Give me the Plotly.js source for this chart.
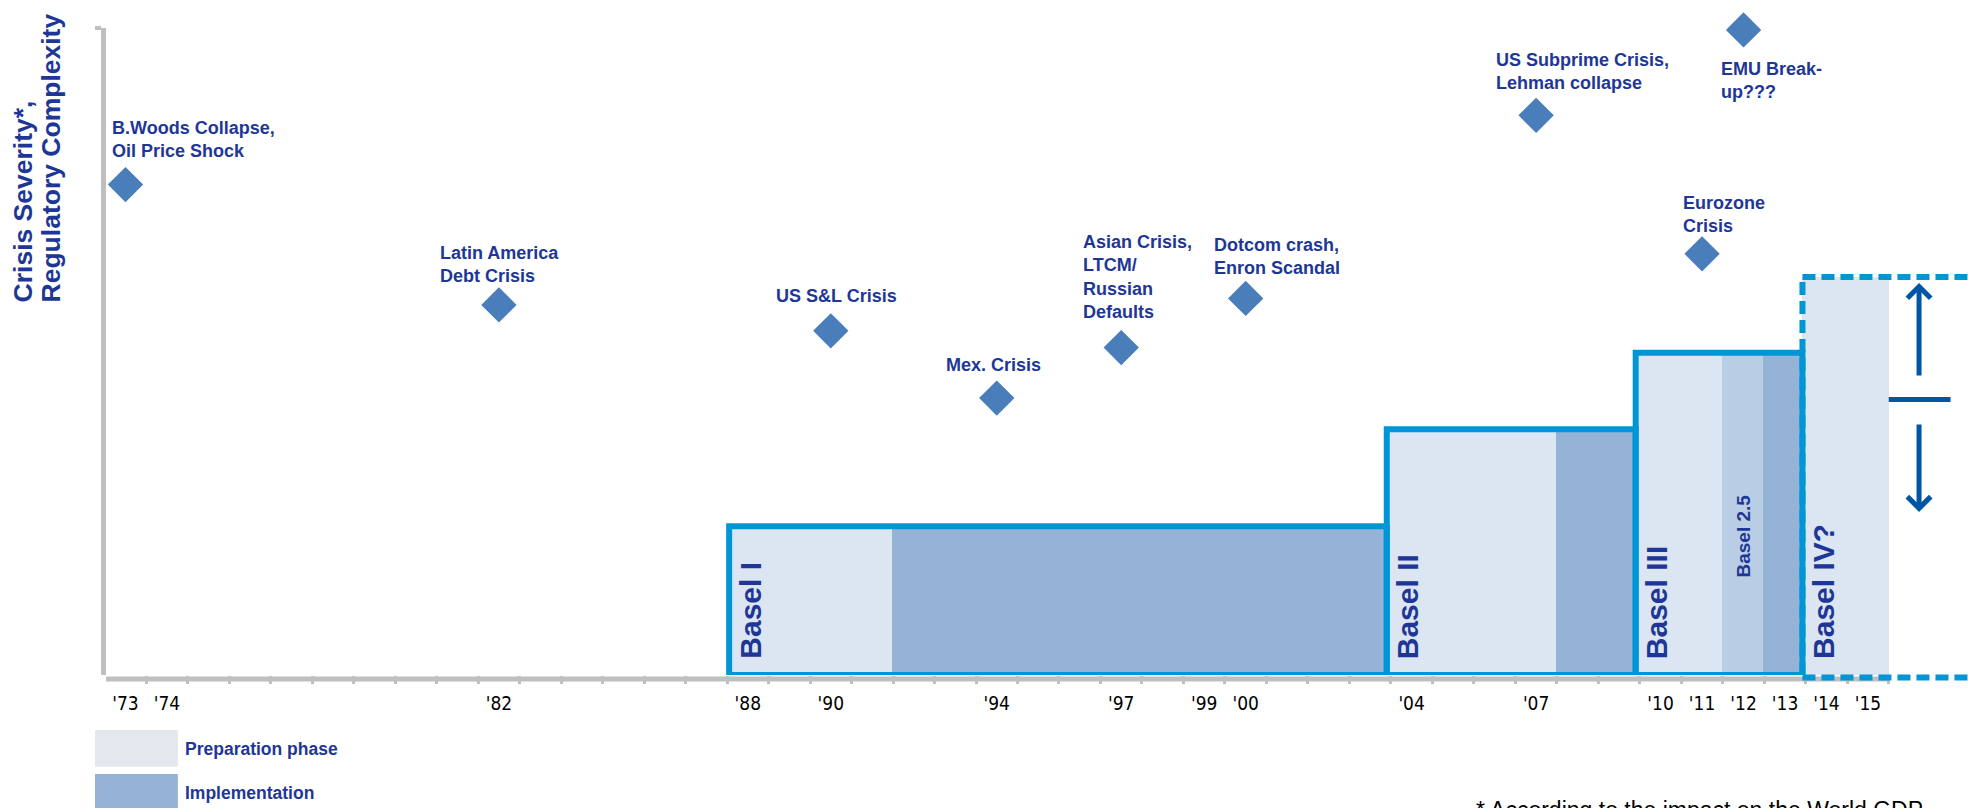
<!DOCTYPE html>
<html><head><meta charset="utf-8">
<script src="https://cdn.plot.ly/plotly-3.0.1.min.js"></script>
<style>html,body{margin:0;padding:0;background:#fff;} #chart{width:1968px;height:808px;}</style>
</head><body><div id="chart"></div>
<script>
// ---- Crises (diamonds) ----
const crisisLabels = ["B.Woods Collapse,<br>Oil Price Shock", "Latin America<br>Debt Crisis", "US S&amp;L Crisis", "Mex. Crisis",
  "Asian Crisis,<br>LTCM/<br>Russian<br>Defaults", "Dotcom crash,<br>Enron Scandal", "US Subprime Crisis,<br>Lehman collapse",
  "EMU Break-<br>up???", "Eurozone<br>Crisis"];
const crisisYears = [1973, 1982, 1990, 1994, 1997, 2000, 2007, 2012, 2011];
const crisisSeverity = [75.8, 57.2, 53.2, 42.8, 50.6, 58.2, 86.5, 99.7, 65.1];

// ---- Regulatory regimes (boxes) ----
const regimes = ["Basel I", "Basel II", "Basel III", "Basel IV?"];
const regimeStart = [1987.55, 2003.4, 2009.4, 2013.42];
const regimeEnd = [2003.4, 2009.4, 2013.42, 2015.5];
const regimeLevel = [23.0, 38.0, 49.8, 61.5];
const prepEnd = [1991.48, 2007.48, 2011.48, 2015.5];
const implStart = [1991.48, 2007.48, 2012.47];
const basel25Span = [2011.48, 2012.47];
const basel25Label = "Basel 2.5";

// ---- Axis ticks ----
const tickYears = [1973, 1974, 1982, 1988, 1990, 1994, 1997, 1999, 2000, 2004, 2007, 2010, 2011, 2012, 2013, 2014, 2015];
const tickText = ["'73", "'74", "'82", "'88", "'90", "'94", "'97", "'99", "'00", "'04", "'07", "'10", "'11", "'12", "'13", "'14", "'15"];
const yTitleLines = ["Crisis Severity*,", "Regulatory Complexity"];

// ---- styles / positions (not data) ----
const labelDx = [-16, -61, -57, -53, -40, -34, -42, -25, -21];
const labelDy = [22, 17, 23, 21, 24, 18, 20, -27, 16];
const DARK = "#1E3796";
const PREP = "#DCE6F2", IMPL = "#95B3D7", MID = "#B9CDE5", EDGE = "#0096D6", GREY = "#BFBFBF", ARROW = "#0055A6";
const X0 = 1972.53, X1 = 2017.41;
const FONT = 'Liberation Sans, Arial, sans-serif';

const mid = (a, b) => (a + b) / 2;

const traces = [];
// preparation phases
traces.push({type: 'bar', x: regimeStart.map((s, i) => mid(s, prepEnd[i])), y: regimeLevel, base: 0,
  width: regimeStart.map((s, i) => prepEnd[i] - s), marker: {color: PREP, line: {width: 0}}, showlegend: false, hoverinfo: 'skip'});
// basel 2.5 phase
traces.push({type: 'bar', x: [mid(basel25Span[0], basel25Span[1])], y: [regimeLevel[2]], base: 0,
  width: [basel25Span[1] - basel25Span[0]], marker: {color: MID, line: {width: 0}}, showlegend: false, hoverinfo: 'skip'});
// implementation phases
traces.push({type: 'bar', x: implStart.map((s, i) => mid(s, regimeEnd[i])), y: implStart.map((s, i) => regimeLevel[i]), base: 0,
  width: implStart.map((s, i) => regimeEnd[i] - s), marker: {color: IMPL, line: {width: 0}}, showlegend: false, hoverinfo: 'skip'});
// solid outlines (Basel I-III)
traces.push({type: 'bar', x: regimeStart.slice(0, 3).map((s, i) => mid(s, regimeEnd[i])), y: regimeLevel.slice(0, 3), base: 0,
  width: regimeStart.slice(0, 3).map((s, i) => regimeEnd[i] - s), cliponaxis: false,
  marker: {color: 'rgba(0,0,0,0)', line: {width: 6, color: EDGE}}, showlegend: false, hoverinfo: 'skip'});
// crises
traces.push({type: 'scatter', mode: 'markers', x: crisisYears, y: crisisSeverity, cliponaxis: false,
  marker: {symbol: 'diamond', size: 25, color: '#4A7EBB', line: {width: 2, color: '#4A7EBB'}}, showlegend: false, hoverinfo: 'skip'});
// tick-mark carrier on overlaying axis
traces.push({type: 'scatter', mode: 'markers', x: [X0], y: [0], xaxis: 'x2', marker: {opacity: 0}, showlegend: false, hoverinfo: 'skip'});

const halfTicks = [];
for (let v = tickYears[0] - 0.5; v <= tickYears[tickYears.length - 1] + 0.5; v += 1) halfTicks.push(v);

const annotations = [];
crisisLabels.forEach((t, i) => {
  annotations.push({x: crisisYears[i], y: crisisSeverity[i], xref: 'x', yref: 'y', text: '<b>' + t.split('<br>').join('</b><br><b>') + '</b>',
    showarrow: false, xanchor: 'left', yanchor: labelDy[i] < 0 ? 'top' : 'bottom', align: 'left',
    xshift: labelDx[i], yshift: labelDy[i], font: {family: FONT, size: 18, color: DARK}});
});
regimes.forEach((r, i) => {
  annotations.push({x: regimeStart[i], y: 0, xref: 'x', yref: 'y', text: '<b>' + r + '</b>', showarrow: false, textangle: -90,
    xanchor: 'center', yanchor: 'bottom', xshift: 21, yshift: 14,
    font: {family: FONT, size: 30, color: DARK}});
});
annotations.push({x: mid(basel25Span[0], basel25Span[1]), y: 0, xref: 'x', yref: 'y', text: '<b>' + basel25Label + '</b>',
  showarrow: false, textangle: -90, xanchor: 'center', yanchor: 'middle', yshift: 139,
  font: {family: FONT, size: 19, color: DARK}});
// y title (two lines, start-aligned)
const yTitleX = [-0.0445, -0.0297];
yTitleLines.forEach((t, i) => {
  annotations.push({xref: 'paper', yref: 'paper', x: yTitleX[i], y: 0.573, xanchor: 'center', yanchor: 'bottom', textangle: -90,
    showarrow: false, text: '<b>' + t + '</b>', font: {family: FONT, size: 26.5, color: DARK}});
});
// arrows
annotations.push({x: 2016.23, y: 60.6, xref: 'x', yref: 'y', ax: 0, ay: 94, text: '', showarrow: true, arrowhead: 4, arrowsize: 0.9, arrowwidth: 5, arrowcolor: ARROW});
annotations.push({x: 2016.23, y: 25.2, xref: 'x', yref: 'y', ax: 0, ay: -89, text: '', showarrow: true, arrowhead: 4, arrowsize: 0.9, arrowwidth: 5, arrowcolor: ARROW});
// legend labels
annotations.push({xref: 'paper', yref: 'paper', x: 0.0415, y: -0.114, xanchor: 'left', yanchor: 'middle', showarrow: false,
  text: '<b>Preparation phase</b>', font: {family: FONT, size: 17.5, color: DARK}});
annotations.push({xref: 'paper', yref: 'paper', x: 0.0415, y: -0.182, xanchor: 'left', yanchor: 'middle', showarrow: false,
  text: '<b>Implementation</b>', font: {family: FONT, size: 17.5, color: DARK}});
// footnote
annotations.push({xref: 'paper', yref: 'paper', x: 0.7345, y: -0.186, xanchor: 'left', yanchor: 'top', showarrow: false,
  text: '* According to the impact on the World GDP', font: {family: FONT, size: 23, color: '#000'}});

const dash = '13px,6px';
const AXIS_Y = -0.0062;   // grey axis line sits ~4px under the baseline
const shapes = [
  // x-axis line
  {type: 'line', xref: 'x', yref: 'paper', x0: X0 - 0.1, x1: regimeEnd[3], y0: AXIS_Y, y1: AXIS_Y,
   line: {color: GREY, width: 5}, layer: 'below'},
  // Basel IV dashed outline
  {type: 'line', xref: 'x', yref: 'y', x0: regimeStart[3], x1: regimeStart[3], y0: 0, y1: regimeLevel[3], line: {color: EDGE, width: 6, dash: dash}},
  {type: 'line', xref: 'x', yref: 'y', x0: regimeStart[3], x1: X1 + 1, y0: regimeLevel[3], y1: regimeLevel[3], line: {color: EDGE, width: 6, dash: dash}},
  {type: 'line', xref: 'x', yref: 'paper', x0: regimeStart[3], x1: X1 + 1, y0: -0.004, y1: -0.004, line: {color: EDGE, width: 6, dash: dash}},
  // arrow midline
  {type: 'line', xref: 'x', yref: 'y', x0: regimeEnd[3], x1: 2016.99, y0: 42.6, y1: 42.6, line: {color: ARROW, width: 5}},
  // legend swatches
  {type: 'rect', xref: 'paper', yref: 'paper', x0: -0.0059, x1: 0.0386, y0: -0.142, y1: -0.085, fillcolor: '#E4E8EE', line: {width: 0}},
  {type: 'rect', xref: 'paper', yref: 'paper', x0: -0.0059, x1: 0.0386, y0: -0.215, y1: -0.153, fillcolor: IMPL, line: {width: 0}}
];

const layout = {
  width: 1968, height: 808, paper_bgcolor: '#fff', plot_bgcolor: 'rgba(0,0,0,0)',
  margin: {l: 106, r: 0, t: 28, b: 133, pad: 0},
  barmode: 'overlay', bargap: 0, showlegend: false,
  font: {family: FONT},
  xaxis: {range: [X0, X1], tickmode: 'array', tickvals: tickYears, ticktext: tickText, ticks: '', showline: false,
    showgrid: false, zeroline: false, ticklabelstandoff: 15,
    tickfont: {family: 'Liberation Sans Narrow, DejaVu Sans Condensed, Liberation Sans, Arial', size: 19, color: '#000'}},
  xaxis2: {range: [X0, X1], overlaying: 'x', anchor: 'y', side: 'bottom', tickmode: 'array', tickvals: halfTicks, ticks: 'outside',
    ticklen: 8, tickwidth: 3, tickcolor: GREY, showticklabels: false, showgrid: false, zeroline: false, showline: false},
  yaxis: {range: [0, 100], showline: true, linecolor: GREY, linewidth: 5, tickmode: 'array', tickvals: [100], ticks: 'outside',
    ticklen: 6, tickwidth: 4, tickcolor: GREY, showticklabels: false, showgrid: false, zeroline: false},
  shapes: shapes, annotations: annotations
};

Plotly.newPlot('chart', traces, layout, {displayModeBar: false, staticPlot: true});
</script></body></html>
